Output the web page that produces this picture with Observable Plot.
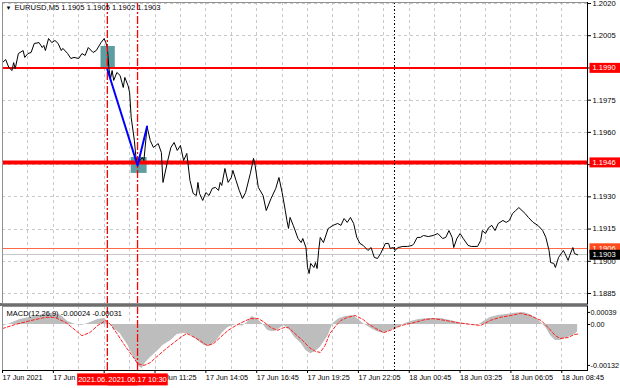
<!DOCTYPE html>
<html><head><meta charset="utf-8">
<script src="https://cdn.jsdelivr.net/npm/d3@7"></script>
<script src="https://cdn.jsdelivr.net/npm/@observablehq/plot@0.6"></script>
<style>
html,body{margin:0;padding:0;background:#fff;}
#chart{width:620px;height:388px;position:relative;overflow:hidden;background:#fff;}
#chart svg{display:block;}
.sep{margin-left:0;width:588px;height:3px;background:#6e6e6e;}
</style></head><body><div id="chart"></div>
<script>
const symbolLabel = "EURUSD,M5";
const lastOHLC = ["1.1905", "1.1905", "1.1902", "1.1903"];
const macdLabel = "MACD(12,26,9) -0.00024 -0.00031";

const priceTimes = ["17 03:25","17 03:35","17 03:45","17 03:55","17 04:00","17 04:05","17 04:15","17 04:30","17 04:35","17 04:45","17 04:55","17 05:05","17 05:20","17 05:30","17 05:35","17 05:40","17 05:50","17 06:00","17 06:10","17 06:20","17 06:30","17 06:35","17 06:50","17 07:00","17 07:10","17 07:25","17 07:35","17 07:45","17 07:55","17 08:10","17 08:20","17 08:35","17 08:45","17 08:50","17 08:55","17 09:00","17 09:05","17 09:10","17 09:15","17 09:25","17 09:35","17 09:45","17 09:50","17 10:00","17 10:05","17 10:10","17 10:20","17 10:25","17 10:30","17 10:45","17 10:50","17 11:00","17 11:10","17 11:20","17 11:35","17 11:45","17 11:50","17 12:05","17 12:15","17 12:25","17 12:35","17 12:45","17 12:55","17 13:05","17 13:15","17 13:25","17 13:35","17 13:40","17 13:45","17 13:55","17 14:05","17 14:15","17 14:25","17 14:35","17 14:45","17 14:50","17 14:55","17 15:05","17 15:15","17 15:25","17 15:30","17 15:40","17 15:50","17 16:00","17 16:10","17 16:25","17 16:35","17 16:40","17 16:50","17 17:05","17 17:15","17 17:30","17 17:45","17 17:55","17 18:05","17 18:15","17 18:20","17 18:25","17 18:30","17 18:40","17 18:55","17 19:05","17 19:10","17 19:20","17 19:25","17 19:30","17 19:35","17 19:45","17 19:50","17 19:55","17 20:00","17 20:05","17 20:15","17 20:30","17 20:35","17 20:45","17 21:00","17 21:10","17 21:20","17 21:30","17 21:40","17 21:50","17 22:00","17 22:10","17 22:20","17 22:35","17 22:45","17 22:55","17 23:05","17 23:15","17 23:30","17 23:40","17 23:45","17 23:55","18 00:00","18 00:10","18 00:25","18 00:40","18 00:55","18 01:00","18 01:10","18 01:20","18 01:30","18 01:45","18 02:00","18 02:15","18 02:30","18 02:40","18 02:50","18 03:00","18 03:05","18 03:15","18 03:25","18 03:35","18 03:50","18 04:00","18 04:20","18 04:30","18 04:35","18 04:45","18 04:55","18 05:05","18 05:15","18 05:25","18 05:40","18 05:50","18 06:00","18 06:10","18 06:20","18 06:30","18 06:40","18 06:50","18 07:00","18 07:15","18 07:30","18 07:45","18 07:55","18 08:05","18 08:10","18 08:20","18 08:25","18 08:35","18 08:50","18 08:55","18 09:05","18 09:10","18 09:20","18 09:25","18 09:35"];
const priceValues = [1.19925,1.19939,1.19902,1.19888,1.19925,1.19897,1.19967,1.19981,1.19949,1.19967,1.19972,1.20014,1.20018,1.19995,1.20005,1.19981,1.20037,1.20018,1.20028,1.20014,1.19981,1.19991,1.19967,1.19944,1.19949,1.19944,1.19967,1.19958,1.19995,1.19972,1.19981,1.20018,1.20037,1.20018,1.19995,1.19897,1.19851,1.19888,1.19842,1.19879,1.19865,1.19809,1.19856,1.19818,1.19786,1.19669,1.19562,1.19483,1.19455,1.19483,1.19469,1.19627,1.19562,1.19530,1.19548,1.19506,1.19367,1.19469,1.19530,1.19553,1.19516,1.19539,1.19469,1.19502,1.19376,1.19316,1.19306,1.19367,1.19316,1.19283,1.19320,1.19306,1.19339,1.19344,1.19330,1.19367,1.19353,1.19432,1.19367,1.19390,1.19423,1.19376,1.19330,1.19292,1.19320,1.19409,1.19479,1.19446,1.19344,1.19306,1.19236,1.19292,1.19339,1.19390,1.19320,1.19236,1.19190,1.19153,1.19204,1.19167,1.19106,1.19087,1.19106,1.19064,1.18971,1.18943,1.18990,1.18971,1.18994,1.18966,1.19050,1.19111,1.19087,1.19153,1.19157,1.19167,1.19176,1.19167,1.19199,1.19181,1.19204,1.19176,1.19111,1.19083,1.19074,1.19050,1.19064,1.19018,1.19013,1.19036,1.19083,1.19083,1.19060,1.19064,1.19050,1.19064,1.19069,1.19069,1.19074,1.19083,1.19111,1.19111,1.19120,1.19115,1.19120,1.19129,1.19106,1.19111,1.19143,1.19111,1.19064,1.19106,1.19129,1.19106,1.19074,1.19069,1.19069,1.19097,1.19143,1.19129,1.19157,1.19167,1.19143,1.19176,1.19190,1.19181,1.19190,1.19222,1.19236,1.19250,1.19236,1.19222,1.19204,1.19181,1.19167,1.19143,1.19111,1.19050,1.18994,1.18990,1.18971,1.19018,1.19050,1.19036,1.19004,1.19027,1.19064,1.19036,1.19030];

const levelUpper = 1.1990;
const levelLower = 1.1946;
const askPrice = 1.1906;
const bidPrice = 1.1903;
const boxStart = ["17 08:35", "17 10:10"];
const boxEnd = ["17 09:20", "17 11:00"];
const boxLow = [1.19893, 1.19409];
const boxHigh = [1.20000, 1.19483];
const blueTimes = ["17 08:55", "17 10:30", "17 11:00"];
const bluePrices = [1.19893, 1.19446, 1.19627];
const vLineTimes = ["17 08:55", "17 10:30"];
const vLineLabels = ["2021.06.17 08:55", "2021.06.17 10:30"];
const daySeparator = ["18 00:00"];

const histTimes = ["17 03:25","17 03:50","17 04:20","17 05:05","17 05:35","17 06:05","17 06:30","17 06:50","17 07:15","17 07:35","17 08:00","17 08:25","17 08:45","17 09:00","17 09:15","17 09:35","17 10:00","17 10:15","17 10:35","17 10:45","17 10:55","17 11:10","17 11:35","17 11:50","17 12:15","17 12:35","17 12:55","17 13:15","17 13:40","17 14:00","17 14:15","17 14:30","17 14:40","17 14:55","17 15:15","17 15:40","17 16:00","17 16:15","17 16:30","17 16:45","17 17:05","17 17:20","17 17:35","17 17:50","17 18:10","17 18:30","17 18:45","17 19:05","17 19:20","17 19:35","17 19:50","17 20:05","17 20:30","17 20:45","17 21:05","17 21:25","17 21:50","17 22:05","17 22:20","17 22:45","17 23:05","17 23:25","17 23:45","18 00:10","18 00:25","18 00:50","18 01:15","18 01:45","18 02:25","18 02:55","18 03:25","18 04:00","18 04:20","18 04:40","18 05:00","18 05:25","18 05:50","18 06:15","18 06:45","18 07:05","18 07:30","18 07:55","18 08:10","18 08:25","18 08:40","18 09:05","18 09:25","18 09:35"];
const histValues = [-0.00006,0.00003,0.00016,0.00026,0.00032,0.00036,0.00029,0.0001,0,-0.00003,0.00006,0.00016,0.00019,0.00006,-0.00013,-0.00029,-0.00068,-0.001,-0.00136,-0.00142,-0.00123,-0.00107,-0.00084,-0.00068,-0.00052,-0.00032,-0.00029,-0.00032,-0.00052,-0.00068,-0.00071,-0.00061,-0.00052,-0.00029,-0.0001,0,-0.00006,0.00006,0.00026,0.00019,0,-0.00019,-0.00023,-0.00019,-0.00003,-0.00019,-0.00042,-0.00061,-0.00084,-0.00094,-0.00087,-0.00074,-0.00036,0.00003,0.00019,0.00026,0.00029,0.00016,0.00003,-0.00013,-0.00023,-0.00029,-0.00019,-0.0001,0,0.0001,0.00016,0.00019,0.00019,0.00013,0.00006,0,-0.00003,0.0001,0.00023,0.00029,0.00032,0.00036,0.00039,0.00032,0.00016,-0.0001,-0.00036,-0.00052,-0.00052,-0.00042,-0.00032,-0.00024];
const signalTimes = ["17 03:25","17 04:05","17 04:55","17 05:40","17 06:10","17 06:45","17 07:15","17 07:35","17 08:00","17 08:25","17 08:50","17 09:05","17 09:25","17 09:50","17 10:15","17 10:30","17 10:50","17 11:10","17 11:35","17 12:00","17 12:25","17 12:45","17 13:05","17 13:30","17 13:55","17 14:10","17 14:30","17 14:50","17 15:15","17 15:40","17 16:05","17 16:25","17 16:50","17 17:05","17 17:30","17 17:50","17 18:10","17 18:25","17 18:45","17 19:10","17 19:30","17 19:50","17 20:05","17 20:20","17 20:35","17 20:55","17 21:10","17 21:30","17 21:55","17 22:20","17 22:35","17 23:00","17 23:25","17 23:45","18 00:20","18 01:00","18 01:35","18 02:00","18 02:40","18 03:15","18 04:00","18 04:30","18 05:00","18 05:30","18 06:05","18 06:35","18 07:05","18 07:40","18 08:05","18 08:25","18 08:40","18 09:05","18 09:25","18 09:35"];
const signalValues = [-0.00013,0,0.00013,0.00023,0.00023,0.00006,-0.00019,-0.00036,-0.00026,-0.00003,0.00013,0,-0.00029,-0.00068,-0.00103,-0.00126,-0.00132,-0.00123,-0.001,-0.00078,-0.00058,-0.00042,-0.00029,-0.00042,-0.00058,-0.00068,-0.00061,-0.00042,-0.00019,-0.00003,0.0001,0.00019,0.00019,0.0001,-0.0001,-0.00019,-0.0001,-0.0001,-0.00029,-0.00052,-0.00074,-0.00087,-0.0009,-0.00068,-0.00029,-0.00003,0.00013,0.00023,0.00029,0.00016,0.00003,-0.00013,-0.00026,-0.00019,-0.00003,0.00006,0.00016,0.00019,0.00013,0.00006,0,-0.00003,0.00013,0.00023,0.00029,0.00036,0.00029,0.00013,-0.00013,-0.00036,-0.00045,-0.00042,-0.00032,-0.00031];

const yTicks = [1.2020, 1.2005, 1.1990, 1.1975, 1.1960, 1.1945, 1.1930, 1.1915, 1.1900, 1.1885];
const macdTicks = [0.00039, 0, -0.00132];
const xTickTimes = ["17 03:25","17 06:05","17 08:45","17 11:25","17 14:05","17 16:45","17 19:25","17 22:05","18 00:45","18 03:25","18 06:05","18 08:45"];
const xTickLabels = ["17 Jun 2021","17 Jun 06:05","17 Jun 08:45","17 Jun 11:25","17 Jun 14:05","17 Jun 16:45","17 Jun 19:25","17 Jun 22:05","18 Jun 00:45","18 Jun 03:25","18 Jun 06:05","18 Jun 08:45"];

const T = s => { const [d, hm] = s.split(" "); const [h, m] = hm.split(":"); return new Date(Date.UTC(2021, 5, +d, +h, +m)); };
const price = priceTimes.map((s, i) => ({t: T(s), p: priceValues[i]}));
const hist = histTimes.map((s, i) => ({t: T(s), v: histValues[i]}));
const signal = signalTimes.map((s, i) => ({t: T(s), v: signalValues[i]}));
const boxes = boxStart.map((s, i) => ({t1: T(s), t2: T(boxEnd[i]), lo: boxLow[i], hi: boxHigh[i]}));
const blue = blueTimes.map((s, i) => ({t: T(s), p: bluePrices[i]}));
const vLines = vLineTimes.map((s, i) => ({t: T(s), label: vLineLabels[i]}));
const vLineDates = vLineTimes.map(T);
const daySep = daySeparator.map(T);
const xTicks = xTickTimes.map(T);
const xLabelMap = new Map(xTicks.map((d, i) => [+d, xTickLabels[i]]));

const xDomain = [T("17 03:25"), T("18 10:06")];
const gridT = d3.range(0, 30).map(k => new Date(+xDomain[0] + k * 80 * 60000)).filter(d => d < xDomain[1]);

const FONT = "'Liberation Sans', Arial, sans-serif";
const common = {
  width: 620, marginLeft: 2, marginRight: 33,
  x: {type: "utc", domain: xDomain, axis: null},
  style: {fontFamily: FONT, fontSize: "7.6px", color: "#000", background: "transparent", overflow: "visible"}
};
const gridStyle = {stroke: "#c8c8c8", strokeDasharray: "3,3", shapeRendering: "crispEdges"};
const dayStyle = {stroke: "#000", strokeDasharray: "1.5,2", shapeRendering: "crispEdges"};
const vlineMark = () => Plot.ruleX(vLineDates, {stroke: "#ff0000", strokeWidth: 1.3, strokeDasharray: "8,2,2,2"});

const yLabelBoxes = [
  {p: levelUpper, bg: "#ff0000"},
  {p: levelLower, bg: "#ff0000"},
  {p: askPrice, bg: "#ff4a1c"},
  {p: bidPrice, bg: "#000000"}
];

const mainPlot = Plot.plot({
  ...common,
  height: 303, marginTop: 2, marginBottom: 0,
  y: {domain: [1.188034, 1.202047], axis: null, label: null},
  marks: [
    Plot.ruleX(gridT, gridStyle),
    Plot.ruleY(yTicks, gridStyle),
    Plot.rect(boxes, {x1: "t1", x2: "t2", y1: "lo", y2: "hi", fill: "#5f9ea0"}),
    Plot.ruleY([bidPrice], {stroke: "#c8c8c8", shapeRendering: "crispEdges"}),
    Plot.ruleY([askPrice], {stroke: "#ff6a45", shapeRendering: "crispEdges"}),
    Plot.ruleY([levelUpper], {stroke: "red", strokeWidth: 2}),
    Plot.ruleY([levelLower], {stroke: "red", strokeWidth: 4}),
    Plot.ruleX(daySep, dayStyle),
    Plot.line(price, {x: "t", y: "p", stroke: "#000", strokeWidth: 1}),
    vlineMark(),
    Plot.line(blue, {x: "t", y: "p", stroke: "#0000ff", strokeWidth: 2}),
    Plot.frame({stroke: "#909090"}),
    Plot.frame({anchor: "right", stroke: "#000"}),
    Plot.axisY({anchor: "right", ticks: yTicks, tickFormat: d3.format(".4f"), tickSize: 3, tickPadding: 2, label: null}),
    Plot.text(["\u25BC"], {frameAnchor: "top-left", dx: 3, dy: 3, lineAnchor: "top", textAnchor: "start", fontSize: 6}),
    Plot.text([[symbolLabel, ...lastOHLC].join(" ")], {frameAnchor: "top-left", dx: 12, dy: 2.5, lineAnchor: "top", textAnchor: "start"}),
    ...yLabelBoxes.map(d => Plot.text([d], {y: "p", text: d => d3.format(".4f")(d.p), frameAnchor: "right", dx: 5, textAnchor: "start", fill: "white", stroke: d.bg, ariaDescription: "boxed-y"}))
  ]
});

const macdPlot = Plot.plot({
  ...common,
  height: 82, marginTop: 0, marginBottom: 18,
  y: {domain: [-0.001484, 0.000581], axis: null, label: null},
  marks: [
    Plot.ruleX(gridT, gridStyle),
    Plot.areaY(hist, {x: "t", y: "v", fill: "#bdbdbd"}),
    Plot.line(signal, {x: "t", y: "v", stroke: "#ff2020", strokeWidth: 1, strokeDasharray: "3,2"}),
    Plot.ruleX(daySep, dayStyle),
    vlineMark(),
    Plot.frame({stroke: "#909090"}),
    Plot.frame({anchor: "right", stroke: "#000"}),
    Plot.frame({anchor: "bottom", stroke: "#000"}),
    Plot.axisY({anchor: "right", ticks: macdTicks, tickFormat: d => d === 0 ? "0.00" : d.toFixed(5), tickSize: 2, tickPadding: 1, fontSize: 7.2, label: null}),
    Plot.axisX({ticks: xTicks, tickFormat: d => xLabelMap.get(+d), tickSize: 3, tickPadding: 1, textAnchor: "start", fontSize: 7.3, label: null}),
    Plot.text([macdLabel], {frameAnchor: "top-left", dx: 4, dy: 4, lineAnchor: "top", textAnchor: "start", fontSize: 7.5}),
    ...vLines.map(d => Plot.text([d], {x: "t", text: "label", frameAnchor: "bottom", dy: 9, textAnchor: "middle", lineAnchor: "middle", fontSize: 7.5, fill: "white", stroke: "#ff0000", ariaDescription: "boxed-x"}))
  ]
});

const root = document.getElementById("chart");
root.appendChild(mainPlot);
const sep = document.createElement("div"); sep.className = "sep"; root.appendChild(sep);
root.appendChild(macdPlot);

function boxLabels(svg) {
  d3.select(svg).selectAll("g[aria-description^='boxed'] text").each(function() {
    const g = this.parentNode;
    const kind = g.getAttribute("aria-description");
    const bg = this.getAttribute("stroke") || g.getAttribute("stroke");
    g.removeAttribute("stroke"); this.removeAttribute("stroke");
    g.removeAttribute("stroke-width"); g.removeAttribute("paint-order");
    const b = this.getBBox();
    const r = document.createElementNS("http://www.w3.org/2000/svg", "rect");
    if (kind === "boxed-y") {
      r.setAttribute("x", b.x - 3); r.setAttribute("width", b.width + 10);
      r.setAttribute("y", b.y - 0.5); r.setAttribute("height", b.height + 1);
    } else {
      r.setAttribute("x", b.x - 1); r.setAttribute("width", b.width + 2);
      r.setAttribute("y", b.y - 1.5); r.setAttribute("height", b.height + 3);
    }
    r.setAttribute("fill", bg); r.setAttribute("stroke", "none");
    const tr = this.getAttribute("transform");
    if (tr) r.setAttribute("transform", tr);
    g.insertBefore(r, this);
  });
}
boxLabels(mainPlot);
boxLabels(macdPlot);
</script></body></html>
